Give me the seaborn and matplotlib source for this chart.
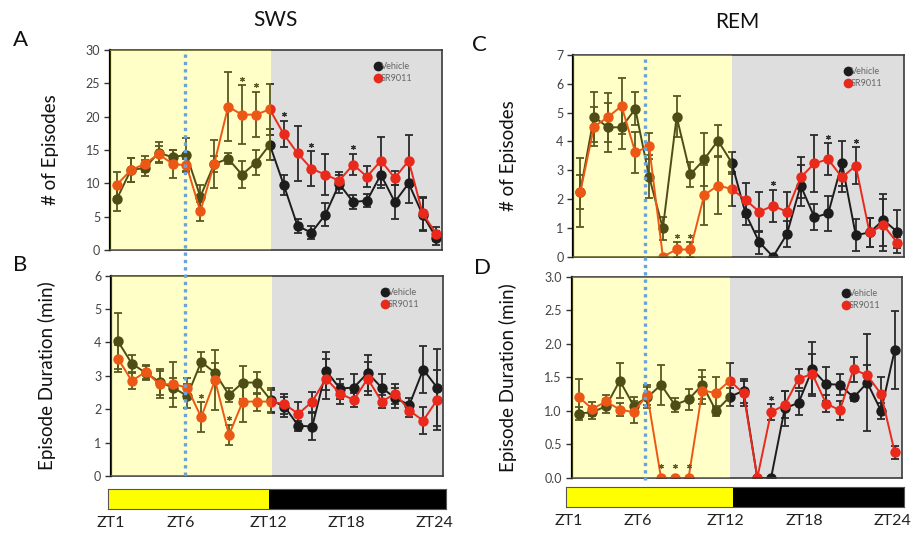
import matplotlib
matplotlib.use("Agg")
import matplotlib.pyplot as plt
import seaborn as sns
import pandas as pd
from matplotlib.lines import Line2D

# zeitgeber hours
zt = list(range(1, 25))

# SWS: number of episodes (mean, SEM)
sws_n_veh = [7.7, 12.0, 12.3, 14.6, 13.9, 14.3, 8.0, 12.9, 13.7, 11.3, 13.1, 15.8,
             9.8, 3.6, 2.6, 5.3, 9.9, 7.2, 7.4, 11.3, 7.2, 10.0, 5.3, 1.8]
sws_n_veh_err = [1.9, 1.8, 1.2, 1.6, 1.1, 2.5, 1.8, 1.2, 0.8, 2.0, 1.9, 2.3,
                 1.5, 1.0, 1.0, 1.7, 1.3, 1.0, 1.0, 2.0, 2.5, 3.0, 2.5, 1.0]
sws_n_sr = [9.8, 12.0, 12.9, 14.4, 12.9, 12.7, 5.8, 12.9, 21.5, 20.3, 20.3, 21.1,
            17.4, 14.5, 12.2, 11.3, 10.4, 12.8, 11.0, 13.4, 10.8, 13.4, 5.5, 2.4]
sws_n_sr_err = [1.9, 1.8, 1.2, 1.2, 2.1, 1.0, 1.4, 3.6, 5.2, 4.4, 3.4, 3.8,
                2.0, 4.1, 2.6, 3.1, 1.3, 1.6, 1.6, 3.6, 1.0, 3.9, 2.5, 1.0]

# SWS: episode duration (min)
sws_d_veh = [4.04, 3.37, 3.09, 2.82, 2.64, 2.40, 3.42, 3.09, 2.43, 2.80, 2.80, 2.28,
             2.08, 1.51, 1.48, 3.15, 2.62, 2.65, 3.09, 2.65, 2.33, 2.13, 3.19, 2.65]
sws_d_veh_err = [0.83, 0.25, 0.2, 0.4, 0.3, 0.37, 0.3, 0.3, 0.2, 0.5, 0.33, 0.35,
                 0.3, 0.15, 0.4, 0.57, 0.3, 0.4, 0.55, 0.4, 0.3, 0.2, 0.7, 1.15]
sws_d_sr = [3.52, 2.85, 3.12, 2.75, 2.75, 2.65, 1.76, 2.87, 1.23, 2.23, 2.23, 2.23,
            2.16, 1.86, 2.23, 2.92, 2.47, 2.28, 2.92, 2.23, 2.47, 1.96, 1.66, 2.28]
sws_d_sr_err = [0.4, 0.23, 0.2, 0.4, 0.67, 0.3, 0.45, 0.9, 0.3, 0.6, 0.27, 0.35,
                0.3, 0.37, 0.3, 0.6, 0.3, 0.2, 0.5, 0.2, 0.3, 0.2, 0.4, 0.9]

# REM: number of episodes
rem_n_veh = [2.25, 4.86, 4.49, 4.49, 5.13, 2.78, 0.98, 4.86, 2.86, 3.38, 4.03, 3.26,
             1.5, 0.5, 0.0, 0.78, 2.47, 1.37, 1.5, 3.24, 0.75, 0.84, 1.27, 0.87]
rem_n_veh_err = [0.6, 0.87, 0.85, 0.75, 0.57, 0.75, 0.4, 0.72, 0.43, 0.92, 0.54, 0.38,
                 0.4, 0.4, 0.0, 0.45, 0.7, 0.45, 0.6, 0.78, 0.55, 0.5, 0.9, 0.74]
rem_n_sr = [2.23, 4.51, 4.84, 5.23, 3.62, 3.84, 0.0, 0.25, 0.25, 2.14, 2.47, 2.35,
            1.97, 1.56, 1.77, 1.56, 2.75, 3.24, 3.38, 2.75, 3.16, 0.84, 1.1, 0.49]
rem_n_sr_err = [1.2, 0.67, 0.85, 0.96, 0.7, 0.44, 0.0, 0.25, 0.25, 1.05, 1.0, 0.6,
                0.6, 0.7, 0.55, 0.7, 0.7, 0.98, 0.55, 0.5, 0.64, 0.5, 0.9, 0.2]

# REM: episode duration (min)
rem_d_veh = [0.96, 0.98, 1.07, 1.45, 1.08, 1.20, 1.39, 1.09, 1.17, 1.39, 1.0, 1.21,
             1.30, 0.0, 0.0, 1.04, 1.12, 1.62, 1.40, 1.39, 1.20, 1.42, 1.0, 1.91]
rem_d_veh_err = [0.1, 0.1, 0.1, 0.26, 0.13, 0.15, 0.3, 0.1, 0.15, 0.22, 0.07, 0.13,
                 0.18, 0.0, 0.0, 0.26, 0.18, 0.4, 0.26, 0.16, 0.05, 0.72, 0.12, 0.58]
rem_d_sr = [1.21, 1.03, 1.14, 1.02, 0.98, 1.24, 0.0, 0.0, 0.0, 1.30, 1.27, 1.45,
            1.26, 0.0, 0.98, 1.09, 1.48, 1.55, 1.11, 1.01, 1.62, 1.53, 1.25, 0.38]
rem_d_sr_err = [0.27, 0.1, 0.1, 0.1, 0.16, 0.15, 0.0, 0.0, 0.0, 0.2, 0.23, 0.26,
                0.18, 0.0, 0.12, 0.2, 0.14, 0.3, 0.12, 0.14, 0.19, 0.15, 0.25, 0.1]

# significance (SR9011 vs vehicle), ZT hours
sws_n_stars = [10, 11, 13, 15, 18]
sws_d_stars = [7, 9]
rem_n_stars = [8, 9, 15, 19, 21]
rem_d_stars = [7, 8, 9, 15]

zt_labels = ["ZT1", "ZT6", "ZT12", "ZT18", "ZT24"]

VEH = "#1c1c1c"
SR = "#e8291c"

sns.set_theme(style="white")
plt.rcParams["font.family"] = ["Lato", "DejaVu Sans"]

fig = plt.figure(figsize=(9.17, 5.33), dpi=100)


def panel(rect, veh, veh_err, sr, sr_err, stars, ymax, ystep, ylabel, xlim,
          light_end, fmt="{:.0f}", label_x=-0.16, leg_x=0.955):
    ax = fig.add_axes(rect)
    df = pd.DataFrame({
        "ZT": zt * 2,
        "value": veh + sr,
        "group": ["Vehicle"] * len(zt) + ["SR9011"] * len(zt),
    })
    ax.axvspan(light_end, xlim[1], color="#dedede", zorder=0, lw=0)
    ax.errorbar(zt, veh, yerr=veh_err, fmt="none", ecolor="#2a2a2a",
                elinewidth=1.3, capsize=3, capthick=1.3, zorder=1.5)
    ax.errorbar(zt, sr, yerr=sr_err, fmt="none", ecolor="#2a2a2a",
                elinewidth=1.3, capsize=3, capthick=1.3, zorder=1.5)
    sns.lineplot(data=df, x="ZT", y="value", hue="group",
                 palette={"Vehicle": VEH, "SR9011": SR}, marker="o",
                 markersize=7.5, markeredgewidth=0, linewidth=1.4,
                 legend=False, errorbar=None, ax=ax)
    # light phase tint laid over the data
    ax.axvspan(xlim[0], light_end, color=(1.0, 1.0, 0.0), alpha=0.22,
               zorder=4, lw=0)
    for h in stars:
        i = zt.index(h)
        y = max(sr[i] + sr_err[i] + 0.033 * ymax, sr[i] + 0.06 * ymax)
        ax.plot(h, y, marker=(6, 2, 0), markersize=3.5, color="#333333",
                mew=0.8, zorder=3)
    ax.set_xlim(*xlim)
    ax.set_ylim(0, ymax)
    ticks = [k * ystep for k in range(int(round(ymax / ystep)) + 1)]
    ax.set_yticks(ticks)
    ax.set_yticklabels([fmt.format(t) for t in ticks])
    ax.set_xticks([])
    ax.set_xlabel("")
    ax.set_ylabel(ylabel, fontsize=13.5, color="#111111")
    ax.yaxis.set_label_coords(label_x, 0.5)
    ax.tick_params(axis="y", direction="out", length=4, width=1,
                   color="#333333", labelsize=9, labelcolor="#444444", pad=3,
                   left=True)
    for s in ax.spines.values():
        s.set_visible(True)
        s.set_color("#3a3a3a")
        s.set_linewidth(1.2)
    ax.spines["left"].set_color("#000000")
    ax.spines["left"].set_linewidth(1.6)
    handles = [Line2D([], [], marker="o", ls="none", color=VEH, markersize=7, mew=0),
               Line2D([], [], marker="o", ls="none", color=SR, markersize=7, mew=0)]
    leg = ax.legend(handles, ["Vehicle", "SR9011"], loc="upper right",
                    bbox_to_anchor=(leg_x, 0.97), frameon=False, fontsize=6.5,
                    handlelength=0.6, handletextpad=0.0, labelspacing=0.3,
                    borderaxespad=0.3)
    for t in leg.get_texts():
        t.set_color("#666666")
    return ax


def day_bar(rect, light_frac):
    ax = fig.add_axes(rect)
    ax.set_xlim(0, 1)
    ax.set_ylim(0, 1)
    ax.axvspan(0, light_frac, color="#ffff00", lw=0)
    ax.axvspan(light_frac, 1, color="#000000", lw=0)
    ax.set_yticks([])
    ax.set_xticks([0.008, 0.214, 0.473, 0.705, 0.965])
    ax.set_xticklabels(zt_labels, fontsize=11.5, color="#222222")
    ax.tick_params(axis="x", length=0, pad=5)
    for s in ax.spines.values():
        s.set_visible(True)
        s.set_color("#555555")
        s.set_linewidth(0.8)
    return ax


ax_a = panel([0.1200, 0.5310, 0.3620, 0.3752], sws_n_veh, sws_n_veh_err,
             sws_n_sr, sws_n_sr_err, sws_n_stars, 30, 5, "# of Episodes",
             (0.5, 24.4), 12.08, label_x=-0.155, leg_x=0.93)
ax_b = panel([0.1210, 0.1069, 0.3617, 0.3758], sws_d_veh, sws_d_veh_err,
             sws_d_sr, sws_d_sr_err, sws_d_stars, 6, 1, "Episode Duration (min)",
             (0.5, 24.4), 12.08, label_x=-0.165, leg_x=0.95)
ax_c = panel([0.6252, 0.5184, 0.3606, 0.3784], rem_n_veh, rem_n_veh_err,
             rem_n_sr, rem_n_sr_err, rem_n_stars, 7, 1, "# of Episodes",
             (0.5, 24.5), 12.03, label_x=-0.17)
ax_d = panel([0.6234, 0.1032, 0.3599, 0.3777], rem_d_veh, rem_d_veh_err,
             rem_d_sr, rem_d_sr_err, rem_d_stars, 3.0, 0.5, "Episode Duration (min)",
             (0.5, 24.5), 12.03, fmt="{:.1f}", label_x=-0.165)

day_bar([0.1181, 0.0450, 0.3683, 0.0375], 0.476)
day_bar([0.6169, 0.0488, 0.3689, 0.0375], 0.495)

# dotted line marking drug injection time, spanning both panels of a column
inv = fig.transFigure.inverted()
for top_ax, bot_ax, x_inj in [(ax_a, ax_b, 5.9), (ax_c, ax_d, 5.7)]:
    x0, y0 = inv.transform(top_ax.transData.transform((x_inj, top_ax.get_ylim()[1])))
    _, y1 = inv.transform(bot_ax.transData.transform((x_inj, bot_ax.get_ylim()[0])))
    fig.add_artist(Line2D([x0, x0], [y0 - 0.008, y1 - 0.004], transform=fig.transFigure,
                          color="#6aa3da", lw=2.4, ls=(0, (1, 1.2)), zorder=10))

fig.text(0.300, 0.962, "SWS", fontsize=15, ha="center", va="center", color="#111111")
fig.text(0.804, 0.959, "REM", fontsize=15, ha="center", va="center", color="#111111")
for lbl, x, y in [("A", 0.0226, 0.925), ("B", 0.022, 0.503),
                  ("C", 0.523, 0.916), ("D", 0.526, 0.497)]:
    fig.text(x, y, lbl, fontsize=16, ha="center", va="center", color="#111111")

fig.savefig("out.png", dpi=100)
